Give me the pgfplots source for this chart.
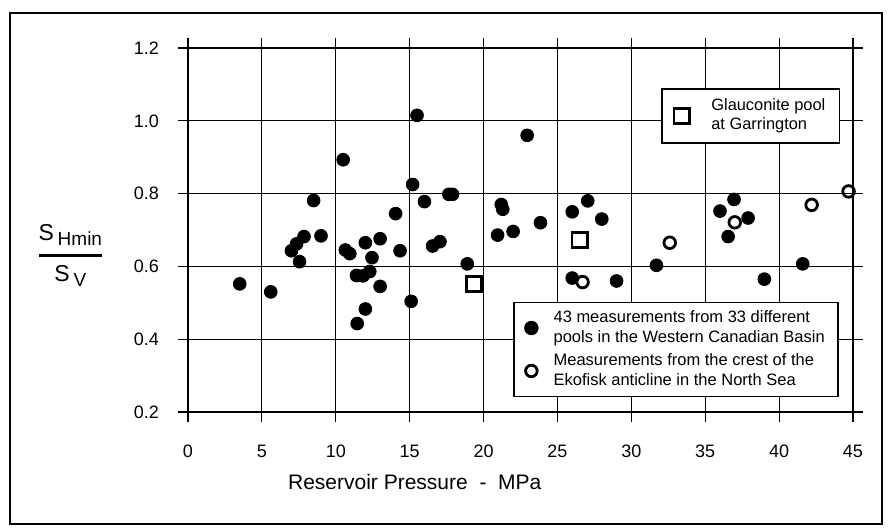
\documentclass[border=0pt]{standalone}
\usepackage{amsmath}
\usepackage{pgfplots}
\pgfplotsset{compat=1.18}
\usepackage{fontspec}
\setmainfont{Liberation Sans}

\pgfplotsset{
  commonaxis/.style={
    at={(94pt,57.5pt)}, anchor=south west,
    width=332.5pt, height=182pt, scale only axis,
    xmin=0, xmax=45, ymin=0.2, ymax=1.2,
  },
}

\begin{document}
\begin{tikzpicture}
% whole page 893 x 527 px at 0.5pt per px
\useasboundingbox (0,0) rectangle (446.5pt,263.5pt);
\draw[line width=1pt] (5pt,1.5pt) rectangle (441pt,257pt);

\begin{axis}[
  commonaxis,
  xtick={0,5,10,15,20,25,30,35,40,45},
  ytick={0.2,0.4,0.6,0.8,1.0,1.2},
  grid=major,
  grid style={black, line width=0.6pt},
  axis line style={line width=0.6pt},
  tick style={black, line width=0.6pt},
  tick align=center, major tick length=10pt,
  /pgf/number format/assume math mode=true,
  ticklabel style={font=\fontsize{9}{10}\selectfont},
  yticklabel style={/pgf/number format/fixed, /pgf/number format/fixed zerofill,
    /pgf/number format/precision=1, xshift=-6pt},
  xticklabel style={yshift=-8pt},
  xlabel={Reservoir Pressure~~-~~MPa},
  xlabel style={font=\fontsize{10.5}{12}\selectfont, at={(axis description cs:0.341,0)}, anchor=center, yshift=-35pt},
  ylabel={$\genfrac{}{}{1.4pt}{0}{\mbox{\fontsize{11.5}{12}\selectfont S\,\raisebox{-0.45ex}{\fontsize{9.5}{10}\selectfont Hmin}}}{\mbox{\fontsize{11.5}{12}\selectfont S\,\raisebox{-0.45ex}{\fontsize{9.5}{10}\selectfont V}}}$},
  ylabel style={rotate=-90, at={(axis description cs:-0.177,0.43)}, anchor=center},
  legend image code/.code={\draw[mark repeat=2, mark phase=2, #1] plot coordinates {(0pt,0pt) (3.2pt,0pt) (6.4pt,0pt)}; \path (7.9pt,0pt);},
  legend style={at={(0.489,0.303)}, anchor=north west, draw=black, line width=0.8pt,
    fill=white, font=\fontsize{8.25}{10}\selectfont, inner xsep=5.5pt, inner ysep=3pt,
    row sep=2pt, column sep=5pt, nodes={inner xsep=1pt, inner ysep=1pt}},
  legend cell align=left,
  legend style={cells={align=left}},
]
% Western Canadian Basin pools
\addplot[only marks, mark=*, mark size=3.2pt, black, mark options={fill=black}] coordinates {
(3.5,0.552) (5.6,0.530) (7.0,0.643) (7.35,0.662) (7.55,0.613) (7.85,0.682)
(8.5,0.781) (9.0,0.684) (10.5,0.893) (10.65,0.645) (10.95,0.635) (12.0,0.665)
(12.45,0.624) (11.4,0.575) (11.85,0.574) (12.3,0.586) (13.0,0.676) (13.0,0.545)
(12.0,0.483) (11.45,0.443) (14.05,0.745) (14.35,0.643) (15.1,0.504) (15.2,0.825)
(15.5,1.015) (16.0,0.778) (16.55,0.656) (17.05,0.668) (17.65,0.798) (17.9,0.798)
(18.9,0.607) (20.95,0.686) (21.2,0.770) (21.3,0.757) (22.0,0.696) (22.95,0.960)
(23.85,0.720) (26.0,0.750) (27.05,0.780) (28.0,0.730) (26.0,0.568) (29.0,0.560)
(31.7,0.603) (36.0,0.752) (36.55,0.682) (36.95,0.784) (37.9,0.733) (39.0,0.565)
(41.6,0.607)
};
\addlegendentry{43 measurements from 33 different\\pools in the Western Canadian Basin}
% Ekofisk crest
\addplot[only marks, mark=o, mark size=2.9pt, black, mark options={line width=1.4pt, fill=white}] coordinates {
(26.7,0.557) (32.6,0.665) (37.0,0.721) (42.2,0.769) (44.7,0.806)
};
\addlegendentry{Measurements from the crest of the\\Ekofisk anticline in the North Sea}
\end{axis}

\begin{axis}[
  commonaxis, hide axis,
  legend image code/.code={\draw[mark repeat=2, mark phase=2, #1] plot coordinates {(0pt,0pt) (4pt,0pt) (8pt,0pt)}; \path (11pt,0pt);},
  legend style={at={(0.7115,0.89)}, anchor=north west, draw=black, line width=0.8pt,
    fill=white, font=\fontsize{8.2}{9.5}\selectfont, inner xsep=6pt, inner ysep=4pt,
    column sep=6.5pt, nodes={inner xsep=1pt, inner ysep=1pt}},
  legend cell align=left,
  legend style={cells={align=left}},
]
% Glauconite pool
\addplot[only marks, mark=square, mark size=3.8pt, black, mark options={line width=1.4pt, fill=white}] coordinates {
(19.35,0.551) (26.5,0.673)
};
\addlegendentry{Glauconite pool\\at Garrington}
\end{axis}
\end{tikzpicture}
\end{document}
